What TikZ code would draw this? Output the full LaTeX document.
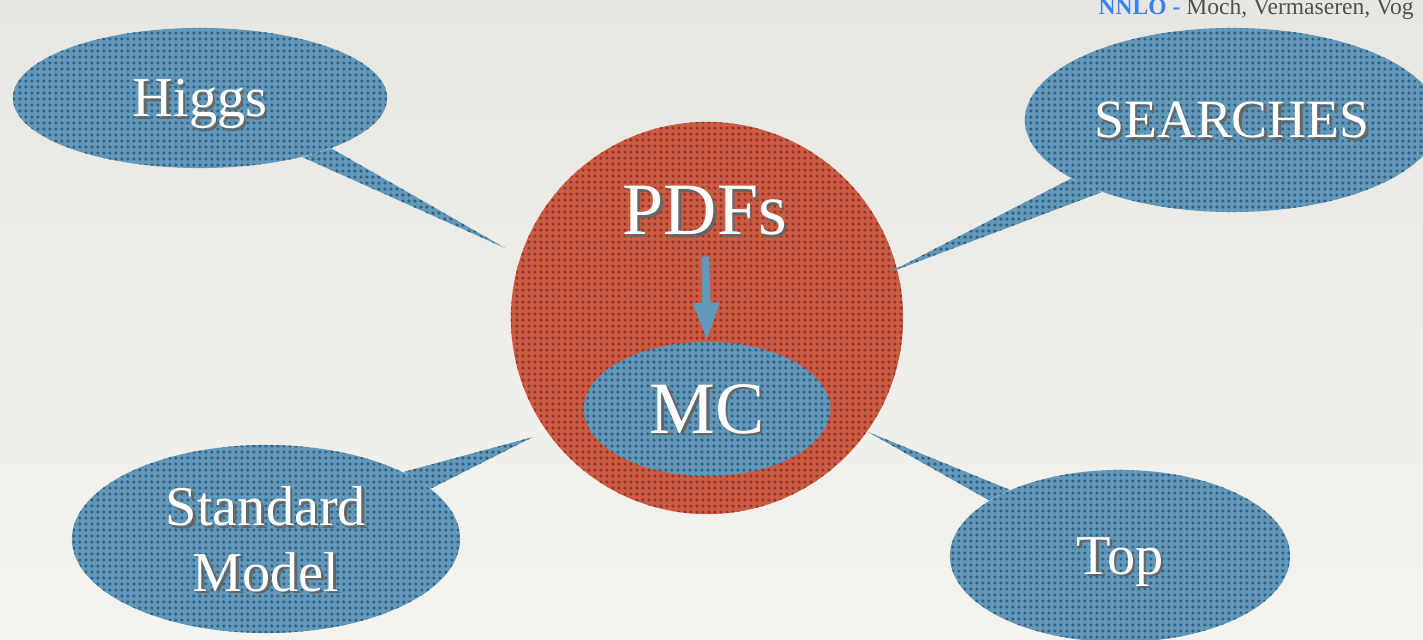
\documentclass[tikz,border=0pt]{standalone}
\usepackage{fontspec}
\setmainfont{Liberation Serif}
\usepackage{xcolor}
\usepackage{tikz}
\usetikzlibrary{arrows.meta,calc,patterns,shapes.geometric}
\definecolor{paperA}{RGB}{232,230,225}
\definecolor{paperB}{RGB}{245,243,238}
\definecolor{bubble}{RGB}{98,152,186}
\definecolor{bubbledot}{RGB}{50,96,126}
\definecolor{ring}{RGB}{204,92,68}
\definecolor{ringdot}{RGB}{148,54,38}
\definecolor{nnlo}{RGB}{58,128,246}
\definecolor{cite}{RGB}{80,80,80}
\pgfdeclarepatternformonly{halftone}{\pgfpointorigin}{\pgfpoint{1.7pt}{1.7pt}}{\pgfpoint{1.7pt}{1.7pt}}{\pgfpathcircle{\pgfpoint{0.85pt}{0.85pt}}{0.5pt}\pgfusepath{fill}}
\newcommand{\shd}[1]{\leavevmode\rlap{\kern0.7pt\raisebox{-0.7pt}{\color{black!60}#1}}#1}

\begin{document}
\begin{tikzpicture}[x=0.01cm,y=-0.01cm,
  bubble/.style={ellipse,inner sep=0pt,preaction={fill=bubble},pattern=halftone,pattern color=bubbledot,
    text=white,font=\fontsize{16}{19.5}\selectfont,align=center,text depth=0pt},
  tail/.style={preaction={fill=bubble},pattern=halftone,pattern color=bubbledot},
  flow/.style={draw=bubble,line width=2.3pt,-{Triangle[length=11pt,width=7pt]}}]
\useasboundingbox (0,0) rectangle (1423,640);
\clip (0,0) rectangle (1423,640);
\shade[top color=paperA,bottom color=paperB] (0,0) rectangle (1423,640);

\node[circle,minimum size=3.92cm,inner sep=0pt,preaction={fill=ring},pattern=halftone,pattern color=ringdot] (core) at (707,318) {};
\node[text=white,font=\fontsize{21}{25}\selectfont,inner sep=0pt,anchor=base] (pdfs) at (705,235) {\shd{PDFs}};
\node[bubble,minimum width=2.46cm,minimum height=1.34cm,font=\fontsize{21}{25}\selectfont] (mc) at (707,409) {\shd{MC}};
\draw[flow,shorten <=5pt] (pdfs.south) -- (mc.north);

\node[bubble,minimum width=3.74cm,minimum height=1.40cm] (higgs) at (200,98) {\shd{Higgs}};
\node[bubble,minimum width=4.14cm,minimum height=1.84cm,font=\fontsize{15.3}{19}\selectfont] (searches) at (1232,120) {\shd{SEARCHES}};
\node[bubble,minimum width=3.88cm,minimum height=1.88cm] (sm) at (266,539) {\raisebox{-1pt}{\shd{Standard}}\\\shd{Model}};
\node[bubble,minimum width=3.40cm,minimum height=1.72cm] (top) at (1120,556) {\shd{Top}};

\coordinate (hgtip) at (505,248);
\coordinate (srtip) at (888,273);
\coordinate (smtip) at (533,437);
\coordinate (toptip) at (868,432);
\fill[tail] (higgs.-21) -- (hgtip) -- (higgs.-30) -- cycle;
\fill[tail] (searches.200) -- (srtip) -- (searches.209) -- cycle;
\fill[tail] (sm.26) -- (smtip) -- (sm.17) -- cycle;
\fill[tail] (top.157) -- (toptip) -- (top.149) -- cycle;

\node[anchor=base west,inner sep=0pt,font=\fontsize{6.7}{8}\selectfont] (refs) at (1098,15)
  {\textcolor{nnlo}{\textbf{NNLO -}} \textcolor{cite}{Moch, Vermaseren, Vog}};
\end{tikzpicture}
\end{document}
